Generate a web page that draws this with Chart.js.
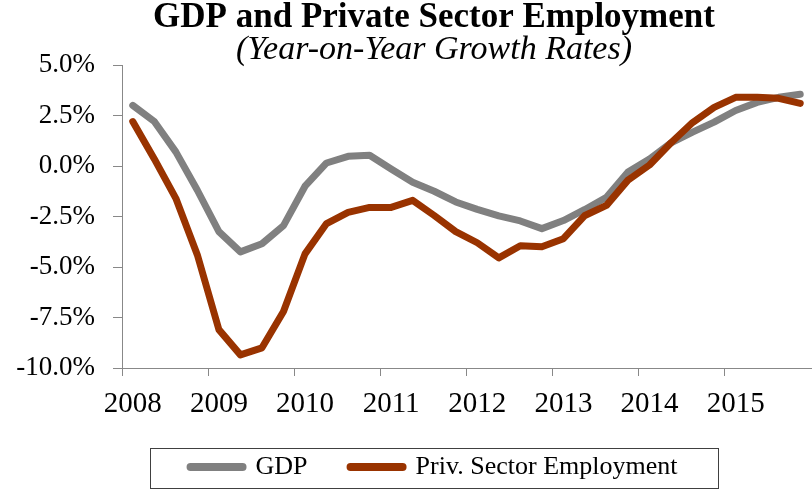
<!DOCTYPE html>
<html>
<head>
<meta charset="utf-8">
<script src="https://cdn.jsdelivr.net/npm/chart.js@4.4.1/dist/chart.umd.min.js"></script>
<style>
    body { margin: 0; background: #fff; }
    #wrap { width: 812px; height: 490px; position: relative; }
</style>
</head>
<body>
<div id="wrap"><canvas id="chartjs"></canvas></div>
<script>
const years = ['2008', '2009', '2010', '2011', '2012', '2013', '2014', '2015'],
    quarters = ['Q1', 'Q2', 'Q3', 'Q4'];

// year-on-year growth, %, one value per quarter 2008Q1..2015Q4
const gdp = [3.0, 2.2, 0.7, -1.2, -3.25, -4.25, -3.85, -2.95,
    -1.0, 0.15, 0.48, 0.53, -0.15, -0.8, -1.25, -1.78,
    -2.15, -2.47, -2.72, -3.1, -2.7, -2.15, -1.55, -0.3,
    0.35, 1.15, 1.68, 2.17, 2.75, 3.15, 3.4, 3.55];

const employment = [2.2, 0.35, -1.6, -4.4, -8.1, -9.35, -9.0, -7.2,
    -4.35, -2.85, -2.3, -2.05, -2.05, -1.7, -2.45, -3.25,
    -3.8, -4.55, -3.95, -4.0, -3.6, -2.45, -1.95, -0.7,
    0.05, 1.15, 2.15, 2.9, 3.4, 3.4, 3.35, 3.1];

const labels = [];
years.forEach(y => quarters.forEach(q => labels.push(y + ' ' + q)));

const serif = "'Liberation Serif', 'Times New Roman', serif",
    axisGray = '#888888';

// the left padding only shifts the titles/legend; give the axes their label room back
const axisRoom = {
    id: 'axisRoom',
    afterLayout(chart) {
        const y = chart.scales.y, x = chart.scales.x;
        y.left = 0;
        y.width = y.right;
        x.bottom = chart.height;
        x.height = x.bottom - x.top;
    }
};

// box round the legend row
const legendFrame = {
    id: 'legendFrame',
    afterDraw(chart) {
        const hb = chart.legend.legendHitBoxes;
        if (!hb || !hb.length) return;
        const last = hb[hb.length - 1];
        const cx = (hb[0].left + last.left + last.width) / 2,
            cy = hb[0].top + hb[0].height / 2;
        const c = chart.ctx;
        c.save();
        c.strokeStyle = '#404040';
        c.lineWidth = 1;
        c.strokeRect(Math.round(cx - 284) + 0.5, Math.round(cy - 19) + 0.5, 568, 40);
        c.restore();
    }
};

new Chart(document.getElementById('chartjs').getContext('2d'), {
    type: 'line',
    data: {
        labels: labels,
        datasets: [
            {
                label: 'GDP',
                data: gdp,
                borderColor: '#808080',
                borderWidth: 7,
                borderCapStyle: 'round',
                borderJoinStyle: 'round',
                pointRadius: 0,
                tension: 0,
                order: 1
            },
            {
                label: 'Priv. Sector Employment',
                data: employment,
                borderColor: '#993300',
                borderWidth: 7,
                borderCapStyle: 'round',
                borderJoinStyle: 'round',
                pointRadius: 0,
                tension: 0,
                order: 0
            }
        ]
    },
    options: {
        responsive: true,
        maintainAspectRatio: false,
        animation: false,
        layout: { padding: { left: 57, right: 1, top: 0, bottom: 0 } },
        plugins: {
            title: {
                display: true,
                text: 'GDP and Private Sector Employment',
                color: '#000',
                font: { family: serif, size: 35, weight: 'bold', lineHeight: 1 },
                padding: { top: 0, bottom: 0 }
            },
            subtitle: {
                display: true,
                text: '(Year-on-Year Growth Rates)',
                color: '#000',
                font: { family: serif, size: 34, style: 'italic', lineHeight: 1 },
                padding: { top: -2, bottom: -2 }
            },
            legend: {
                position: 'bottom',
                labels: {
                    color: '#000',
                    font: { family: serif, size: 26 },
                    usePointStyle: true,
                    pointStyle: 'line',
                    pointStyleWidth: 52,
                    padding: 43,
                    sort: (a, b) => a.datasetIndex - b.datasetIndex,
                    generateLabels(chart) {
                        const items = Chart.defaults.plugins.legend.labels.generateLabels(chart);
                        items.forEach(it => {
                            it.lineCap = 'round';
                            it.lineJoin = 'round';
                            it.lineWidth = 8;
                            it.pointStyle = 'line';
                        });
                        return items;
                    }
                }
            },
            tooltip: { enabled: false }
        },
        scales: {
            x: {
                type: 'category',
                offset: true,
                afterFit: scale => { scale.height = 43; },
                grid: {
                    offset: true,
                    drawOnChartArea: false,
                    tickLength: 8,
                    color: ctx => ctx.index % 4 === 0 ? axisGray : 'rgba(0,0,0,0)'
                },
                border: { color: axisGray, width: 1 },
                ticks: {
                    autoSkip: false,
                    maxRotation: 0,
                    padding: 11,
                    color: '#000',
                    font: { family: serif, size: 29 },
                    callback: (v, i) => i % 4 === 0 ? years[i / 4] : ''
                }
            },
            y: {
                min: -10,
                max: 5,
                afterFit: scale => { scale.width = 65; },
                grid: {
                    drawOnChartArea: false,
                    tickLength: 9,
                    color: axisGray
                },
                border: { color: axisGray, width: 1 },
                ticks: {
                    stepSize: 2.5,
                    padding: 18,
                    color: '#000',
                    font: { family: serif, size: 27 },
                    callback: v => v.toFixed(1) + '%'
                }
            }
        }
    },
    plugins: [axisRoom, legendFrame]
});
</script>
</body>
</html>
